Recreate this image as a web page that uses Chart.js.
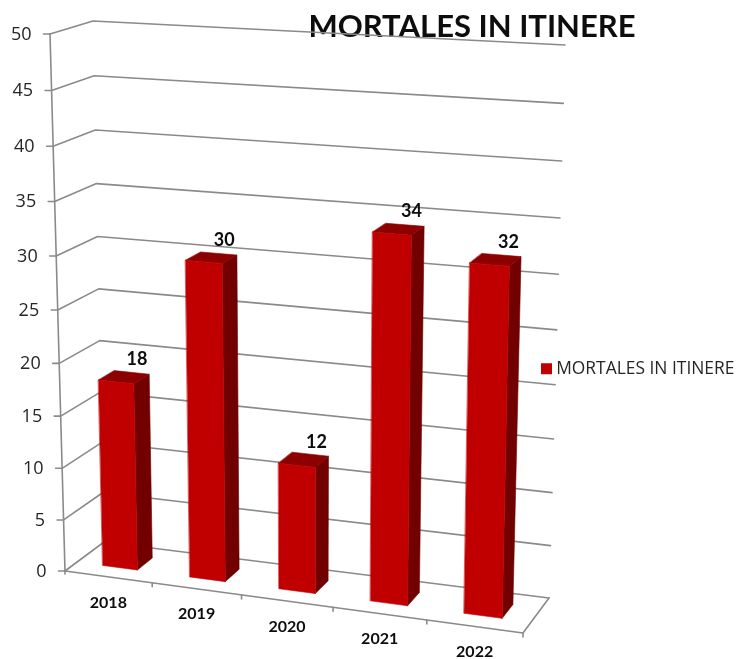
<!DOCTYPE html>
<html><head><meta charset="utf-8">
<style>html,body{margin:0;padding:0;background:#fff}canvas{display:block}</style>
<script src="https://cdn.jsdelivr.net/npm/chart.js@4/dist/chart.umd.min.js"></script>
</head><body><canvas id="c" width="737" height="659"></canvas>
<script>
const categories = ['2018','2019','2020','2021','2022'];
const seriesName = 'MORTALES IN ITINERE';
const seriesValues = [18,30,12,34,32];
const yMin = 0, yMax = 50, yStep = 5;

// Perspective box: corners of the front and back planes (bottom-left, bottom-right, top-right, top-left)
const frontPlane = [[65,571],[523,633],[535,64],[50,34]];
const backPlane  = [[104,542],[549,598],[565,45],[93,21]];
const depthRange = [0.31,0.71];

function homography(q){
  const [[x0,y0],[x1,y1],[x2,y2],[x3,y3]] = q;
  const dx1=x1-x2, dx2=x3-x2, dx3=x0-x1+x2-x3, dy1=y1-y2, dy2=y3-y2, dy3=y0-y1+y2-y3;
  const det=dx1*dy2-dx2*dy1, g=(dx3*dy2-dx2*dy3)/det, h=(dx1*dy3-dx3*dy1)/det;
  const a=x1-x0+g*x1, b=x3-x0+h*x3, d=y1-y0+g*y1, e=y3-y0+h*y3;
  return (u,v)=>{const w=g*u+h*v+1;return [(a*u+b*v+x0)/w,(d*u+e*v+y0)/w];};
}
const Hf=homography(frontPlane), Hb=homography(backPlane);
function project(u,v,w){const f=Hf(u,v),b=Hb(u,v);return [f[0]+(b[0]-f[0])*w,f[1]+(b[1]-f[1])*w];}

const GRID='#8a8a8a', FRONT='#c00000', SIDE='#720000', TOP='#8c0000';
function line(ctx,pts,color,lw){ctx.beginPath();pts.forEach((p,i)=>i?ctx.lineTo(p[0],p[1]):ctx.moveTo(p[0],p[1]));ctx.strokeStyle=color;ctx.lineWidth=lw;ctx.stroke();}
function face(ctx,pts,color){ctx.beginPath();pts.forEach((p,i)=>i?ctx.lineTo(p[0],p[1]):ctx.moveTo(p[0],p[1]));ctx.closePath();ctx.fillStyle=color;ctx.fill();ctx.strokeStyle=color;ctx.lineWidth=0.6;ctx.stroke();}

const perspective={
  id:'perspective',
  afterLayout(chart){
    const t=chart.titleBlock; t.left=272;t.right=672;t.top=8;t.bottom=47;
    const l=chart.legend; l.left=540.5;l.right=737;l.top=355;
  },
  beforeDatasetDraw(chart,args){
    const ctx=chart.ctx, area=chart.chartArea, sx=chart.scales.x, sy=chart.scales.y;
    const U=x=>(x-area.left)/(area.right-area.left), V=y=>(area.bottom-y)/(area.bottom-area.top);
    ctx.save(); ctx.lineCap='round'; ctx.lineJoin='round';
    // walls
    sy.ticks.forEach(t=>{
      const v=V(sy.getPixelForValue(t.value));
      line(ctx,[project(0,v,0),project(0,v,1),project(1,v,1)],GRID,1.6);
      const p=project(0,v,0); line(ctx,[[p[0]-6.5,p[1]],p],GRID,1.6);
    });
    line(ctx,[project(0,0,0),project(0,1,0)],GRID,1.6);
    // floor
    line(ctx,[project(0,0,0),project(1,0,0),project(1,0,1)],GRID,1.6);
    const n=categories.length;
    for(let i=0;i<=n;i++){const p=project(i/n,0,0);line(ctx,[p,[p[0],p[1]+(i?4:3)]],GRID,1.6);}
    // y tick labels
    ctx.fillStyle='#262626';ctx.font='18px "Open Sans"';ctx.textAlign='right';ctx.textBaseline='middle';
    sy.ticks.forEach(t=>{const p=project(0,V(sy.getPixelForValue(t.value)),0);ctx.fillText(t.label,p[0]-18.5,p[1]+0.5);});
    // x tick labels
    ctx.fillStyle='#0d0d0d';ctx.font='bold 16px Lato';ctx.textAlign='center';
    categories.forEach((c,i)=>{const p=project(U(sx.getPixelForValue(i)),0,0);ctx.fillText(c,p[0],p[1]+25.5);});
    // bars
    const [w0,w1]=depthRange;
    chart.getDatasetMeta(args.index).data.forEach((el,i)=>{
      const u0=U(el.x-el.width/2),u1=U(el.x+el.width/2),vt=V(el.y),vb=V(el.base);
      face(ctx,[project(u1,vb,w0),project(u1,vb,w1),project(u1,vt,w1),project(u1,vt,w0)],SIDE);
      face(ctx,[project(u0,vt,w0),project(u1,vt,w0),project(u1,vt,w1),project(u0,vt,w1)],TOP);
      face(ctx,[project(u0,vb,w0),project(u1,vb,w0),project(u1,vt,w0),project(u0,vt,w0)],FRONT);
      const c=project(U(el.x),vt,(w0+w1)/2);
      ctx.fillStyle='#0d0d0d';ctx.font='bold 18px Lato';ctx.textAlign='center';ctx.textBaseline='middle';
      ctx.fillText(String(seriesValues[i]),c[0]+13,c[1]-18);
    });
    ctx.restore();
    return false;
  }
};

new Chart(document.getElementById('c'),{
  type:'bar',
  data:{labels:categories,datasets:[{label:seriesName,data:seriesValues,backgroundColor:FRONT,barPercentage:0.4,categoryPercentage:1}]},
  plugins:[perspective],
  options:{
    responsive:false,animation:false,
    layout:{padding:0},
    scales:{
      x:{display:false},
      y:{display:false,min:yMin,max:yMax,ticks:{stepSize:yStep}}
    },
    plugins:{
      tooltip:{enabled:false},
      title:{display:true,text:seriesName,color:'#0d0d0d',font:{family:'Lato',size:31,weight:'bold'},padding:0},
      legend:{position:'right',align:'start',labels:{
        padding:5,boxWidth:2,boxHeight:2,color:'#262626',font:{family:'"Open Sans"',size:17.4},
        generateLabels:c=>Chart.defaults.plugins.legend.labels.generateLabels(c).map(l=>({...l,lineWidth:9,strokeStyle:FRONT,fontColor:'#262626'}))
      }}
    }
  }
});
</script></body></html>
